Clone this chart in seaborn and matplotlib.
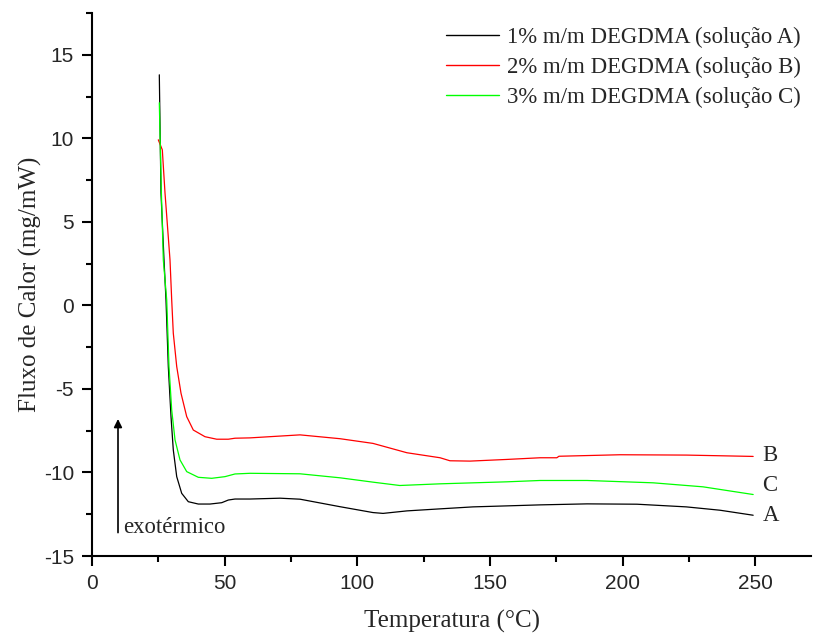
import numpy as np
import pandas as pd
import matplotlib
matplotlib.use("Agg")
import matplotlib.pyplot as plt
from matplotlib.ticker import MultipleLocator
import seaborn as sns

# DSC curves: temperature (°C) and heat flow (mg/mW)
temp_a = [25.37, 26.0, 27.14, 27.89, 28.76, 29.78, 30.64, 31.93, 33.81, 36.30, 40.07,
          44.48, 48.89, 51.38, 53.90, 59.56, 70.9, 78.4, 93.5, 105.9, 109.7, 118.7,
          131.0, 143.6, 156.4, 168.9, 186.6, 205.4, 224.0, 236.7, 249.2]
flux_a = [13.80, 6.74, 2.72, 0.33, -3.66, -6.66, -8.65, -10.25, -11.25, -11.75, -11.89,
          -11.89, -11.81, -11.65, -11.59, -11.59, -11.54, -11.60, -12.05, -12.40, -12.45,
          -12.30, -12.18, -12.06, -12.00, -11.94, -11.88, -11.90, -12.06, -12.26, -12.56]

temp_b = [24.99, 26.50, 27.52, 29.40, 30.04, 30.64, 31.93, 33.55, 35.70, 38.18, 42.59,
          47.00, 51.38, 53.90, 59.56, 78.4, 93.5, 105.9, 118.7, 131.2, 134.9, 142.5,
          156.4, 168.9, 175.2, 176.0, 199.0, 224.0, 249.2]
flux_b = [9.91, 9.31, 6.72, 2.72, 0.33, -1.66, -3.66, -5.26, -6.66, -7.46, -7.86,
          -8.01, -8.01, -7.95, -7.93, -7.75, -7.98, -8.26, -8.82, -9.12, -9.30, -9.32,
          -9.22, -9.12, -9.12, -9.03, -8.94, -8.96, -9.04]

temp_c = [25.37, 26.10, 26.88, 28.16, 29.02, 30.04, 31.29, 33.17, 35.70, 40.07, 45.12,
          50.13, 53.90, 59.56, 78.4, 93.5, 105.9, 116.0, 131.2, 156.4, 168.9, 186.6,
          211.5, 230.3, 249.2]
flux_c = [12.13, 7.00, 2.72, 0.33, -3.66, -6.26, -8.05, -9.25, -9.95, -10.29, -10.35,
          -10.25, -10.09, -10.05, -10.08, -10.32, -10.58, -10.78, -10.68, -10.56, -10.48,
          -10.48, -10.62, -10.86, -11.32]

series_names = ["1% m/m DEGDMA (solução A)",
                "2% m/m DEGDMA (solução B)",
                "3% m/m DEGDMA (solução C)"]
series_tags = ["A", "B", "C"]
series_colors = ["#000000", "#ff0000", "#00ff00"]

frames = []
for name, t, f in zip(series_names, [temp_a, temp_b, temp_c], [flux_a, flux_b, flux_c]):
    frames.append(pd.DataFrame({"Temperatura": t, "Fluxo": f, "Amostra": name}))
df = pd.concat(frames, ignore_index=True)

sns.set_theme(style="ticks")
plt.rcParams["font.family"] = ["Liberation Serif", "DejaVu Serif"]
plt.rcParams["axes.unicode_minus"] = False

fig = plt.figure(figsize=(8.17, 6.37), dpi=100)
ax = fig.add_axes([92 / 817, 1 - 556 / 637, 719 / 817, 543 / 637])

sns.lineplot(data=df, x="Temperatura", y="Fluxo", hue="Amostra",
             palette=dict(zip(series_names, series_colors)),
             sort=False, estimator=None, linewidth=0.9, ax=ax)

ax.set_xlim(0, 271)
ax.set_ylim(-15, 17.5)
ax.xaxis.set_major_locator(MultipleLocator(50))
ax.xaxis.set_minor_locator(MultipleLocator(25))
ax.yaxis.set_major_locator(MultipleLocator(5))
ax.yaxis.set_minor_locator(MultipleLocator(2.5))

for side in ("top", "right"):
    ax.spines[side].set_visible(False)
for side in ("left", "bottom"):
    ax.spines[side].set_linewidth(1.5)
    ax.spines[side].set_color("black")

ax.tick_params(which="major", direction="out", length=7, width=1.5, color="black",
               labelsize=15, pad=6)
ax.tick_params(which="minor", direction="out", length=4.5, width=1.5, color="black")
for lab in ax.get_xticklabels() + ax.get_yticklabels():
    lab.set_fontfamily("Liberation Sans")

ax.set_xlabel("Temperatura (°C)", fontsize=18, labelpad=12)
ax.set_ylabel("Fluxo de Calor (mg/mW)", fontsize=18, labelpad=1)

# curve tags at the right end
tag_pos = {"A": (temp_a[-1], flux_a[-1]), "B": (temp_b[-1], flux_b[-1]),
           "C": (temp_c[-1], flux_c[-1])}
tag_shift = {"A": -0.02, "B": 0.08, "C": 0.55}
for tag in series_tags:
    tx, ty = tag_pos[tag]
    ax.text(tx + 3.5, ty + tag_shift[tag], tag, fontsize=16.4, ha="left", va="center")

# exothermic direction arrow
ax.annotate("", xy=(9.8, -6.8), xytext=(9.8, -13.6),
            arrowprops=dict(arrowstyle="-|>", color="black", lw=1.2,
                            mutation_scale=12, shrinkA=0, shrinkB=0))
ax.text(11.8, -13.6, "exotérmico", fontsize=16.4, ha="left", va="baseline")

leg = ax.legend(loc="upper right", bbox_to_anchor=(0.994, 0.976),
                bbox_transform=fig.transFigure, frameon=False, fontsize=16.4,
                handlelength=2.3, handletextpad=0.35, labelspacing=0.4,
                borderpad=0, title=None)
for line in leg.get_lines():
    line.set_linewidth(1.0)

fig.savefig("out.png", dpi=100)
